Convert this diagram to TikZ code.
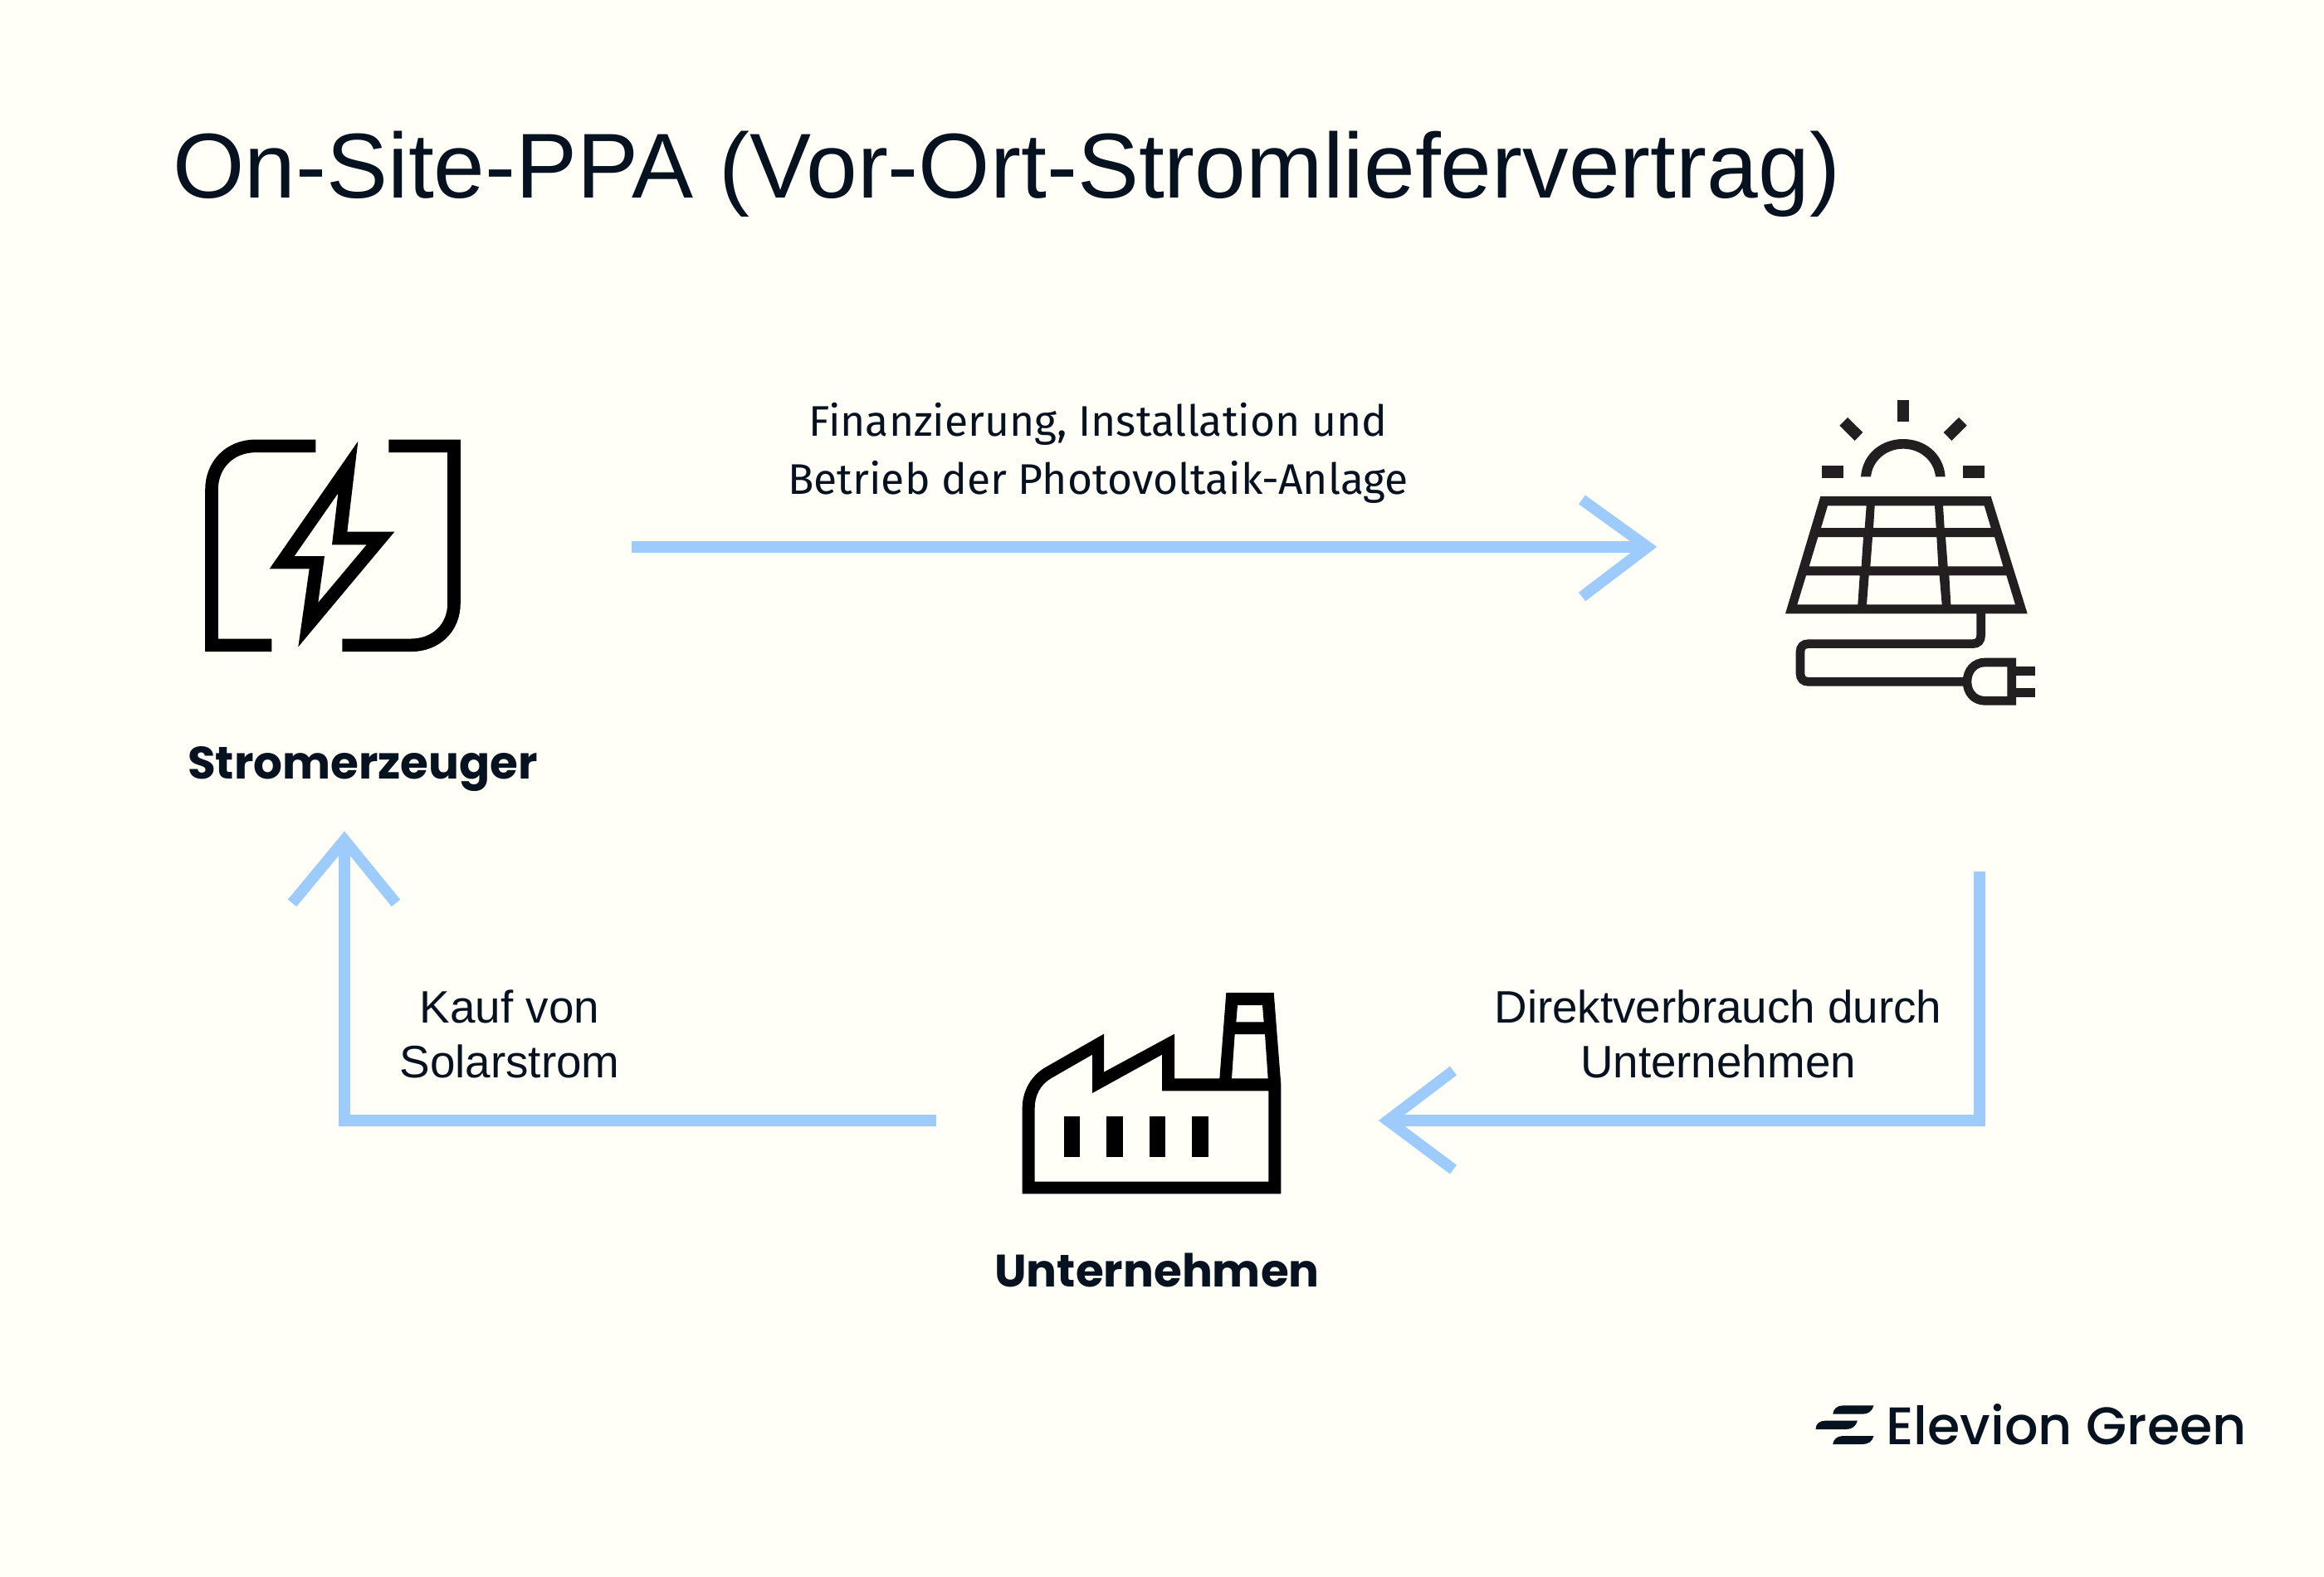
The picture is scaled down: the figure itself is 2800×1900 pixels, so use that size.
\documentclass[tikz,border=0pt]{standalone}
\usepackage{fontspec}
\setmainfont{Poppins}
\newfontfamily\ttlf{Liberation Sans}
\newfontfamily\plexf{Fira Sans}
\newfontfamily\logof{Poppins Medium}
\definecolor{bgc}{HTML}{FFFFF8}
\definecolor{ink}{HTML}{06121F}
\definecolor{flow}{HTML}{9DCBFB}
\definecolor{pan}{HTML}{231F20}
\tikzset{
 x=0.5pt,y=-0.5pt,
 flowline/.style={draw=flow,line width=7.1pt,line join=miter},
 head/.style={draw=flow,line width=6.7pt,miter limit=10},
 labela/.style={font=\plexf\fontsize{25.8}{35}\selectfont,text=ink,align=center,inner sep=0pt},
 labelb/.style={font=\ttlf\fontsize{27.4}{33}\selectfont,text=ink,align=center,inner sep=0pt},
 strong/.style={font=\fontsize{27.4}{33}\selectfont\bfseries,text=ink,inner sep=0pt,anchor=base},
 icon/.style={line width=7.8pt,draw=black,line cap=butt},
}
\begin{document}
\begin{tikzpicture}
\useasboundingbox[fill=bgc] (0,0) rectangle (2800,1900);
\node[font=\ttlf\fontsize{55.5}{60}\selectfont,text=ink,anchor=base west,inner sep=0pt] (title) at (208,238) {On-Site-PPA (Vor-Ort-Stromliefervertrag)};
\node[labela] (l1) at (1323,546) {Finanzierung, Installation und\\Betrieb der Photovoltaik-Anlage};
\node[labelb] (l2) at (614,1246) {Kauf von\\Solarstrom};
\node[labelb] (l3) at (2070,1246) {Direktverbrauch durch\\Unternehmen};
\node[strong] (s1) at (437,938) {Stromerzeuger};
\node[strong] (s2) at (1394,1550) {Unternehmen};
\node[font=\logof\fontsize{31.8}{34}\selectfont,text=ink,anchor=base west,inner sep=0pt] (logo) at (2272,1740) {Elevion Green};
\coordinate (a1s) at (761,659); \coordinate (a1e) at (1985,659);
\coordinate (a2s) at (2385,1050); \coordinate (a2c) at (2385,1350); \coordinate (a2e) at (1672,1350);
\coordinate (a3s) at (1128,1350); \coordinate (a3c) at (415,1350); \coordinate (a3e) at (415,1012);
\draw[flowline] (a1s) -- (a1e);
\draw[head] (1906,602) -- (a1e) -- (1906,719);
\draw[flowline] (a2s) -- (a2c) -- (a2e);
\draw[head] (1751,1290) -- (a2e) -- (1751,1409);
\draw[flowline] (a3s) -- (a3c) -- (a3e);
\draw[head] (352,1088) -- (a3e) -- (477,1088);
% icons
\begin{scope}[shift={(200,500)},x=0.16667pt,y=-0.16667pt]
\draw[icon,miter limit=10] (541,112) -- (325,112) .. controls (230,112) and (165,180) .. (165,270) -- (165,832) -- (382,832);
\draw[icon] (805,112) -- (1041,112) -- (1041,680) .. controls (1041,770) and (975,832) .. (885,832) -- (637,832);
\fill[black,even odd rule] (694,95) -- (655,422) -- (826,422) -- (478,838) -- (518,556) -- (374,556) -- cycle (622,283) -- (600,469) -- (725,469) -- (550,678) -- (573,510) -- (464,510) -- cycle;
\end{scope}
\begin{scope}[shift={(2120,460)},x=0.16667pt,y=-0.16667pt,pan]
\fill (497,66) rectangle (541,145);
\fill (225,304) rectangle (303,348);
\fill (735,304) rectangle (813,348);
\fill (318,129) -- (373,183) -- (344,213) -- (289,158) -- cycle;
\fill (720,129) -- (665,183) -- (694,213) -- (749,158) -- cycle;
\fill[even odd rule] (220,414) -- (836,414) -- (968,838) -- (93,838) -- cycle
 (246,448) -- (386,448) -- (380,528) -- (222,528) -- cycle
 (416,448) -- (633,448) -- (638,528) -- (411,528) -- cycle
 (663,448) -- (812,448) -- (836,528) -- (668,528) -- cycle
 (211,561) -- (375,561) -- (368,667) -- (179,667) -- cycle
 (408,561) -- (640,561) -- (646,667) -- (400,667) -- cycle
 (672,561) -- (849,561) -- (880,667) -- (680,667) -- cycle
 (168,700) -- (362,700) -- (355,805) -- (136,805) -- cycle
 (395,700) -- (650,700) -- (659,805) -- (387,805) -- cycle
 (685,700) -- (892,700) -- (924,805) -- (691,805) -- cycle;
\fill (366,343) .. controls (372,260) and (440,207) .. (519,207) .. controls (598,207) and (665,260) .. (671,343) -- (636,343) .. controls (630,285) and (580,242) .. (519,242) .. controls (458,242) and (408,285) .. (402,343) -- cycle;
\draw[line width=5.3pt,draw=pan] (800,830) -- (800,915) .. controls (800,935) and (790,947) .. (770,947) -- (176,947) .. controls (158,947) and (147,958) .. (147,976) -- (147,1055) .. controls (147,1072) and (158,1084) .. (176,1084) -- (745,1084);
\draw[line width=5.3pt,draw=pan,miter limit=10] (911,1014) -- (815,1014) .. controls (775,1014) and (750,1045) .. (750,1084) .. controls (750,1122) and (775,1153) .. (815,1153) -- (911,1153) -- cycle;
\fill (925,1028) rectangle (995,1061);
\fill (925,1107) rectangle (995,1140);
\end{scope}
\begin{scope}[shift={(1200,1180)},x=0.16667pt,y=-0.16667pt]
\fill[black,even odd rule] (95,775) -- (95,465) .. controls (95,400) and (130,345) .. (180,317) -- (390,197) -- (390,335) -- (645,197) -- (645,358) -- (808,358) -- (832,48) -- (1004,48) -- (1030,380) -- (1030,775) -- cycle
 (140,731) -- (985,731) -- (985,403) -- (600,403) -- (600,272) -- (348,411) -- (348,272) -- (200,357) .. controls (160,380) and (140,420) .. (140,465) -- cycle
 (852,358) -- (983,358) -- (972,198) -- (863,198) -- cycle
 (868,154) -- (968,154) -- (963,93) -- (873,93) -- cycle;
\fill (246,495) rectangle (304,641);
\fill (400,495) rectangle (458,641);
\fill (555,495) rectangle (613,641);
\fill (709,495) rectangle (768,641);
\end{scope}
\begin{scope}[shift={(2160,1670)},x=0.17857pt,y=-0.16667pt,ink]
\fill (135,101) .. controls (137,82) and (150,70) .. (170,70) -- (273,70) .. controls (268,90) and (255,101) .. (235,101) -- cycle;
\fill (77,156) .. controls (77,135) and (92,125) .. (110,125) -- (218,125) .. controls (213,145) and (200,156) .. (180,156) -- cycle;
\fill (135,210) .. controls (137,192) and (150,180) .. (170,180) -- (273,180) .. controls (268,200) and (255,210) .. (235,210) -- cycle;
\end{scope}
\end{tikzpicture}
\end{document}
